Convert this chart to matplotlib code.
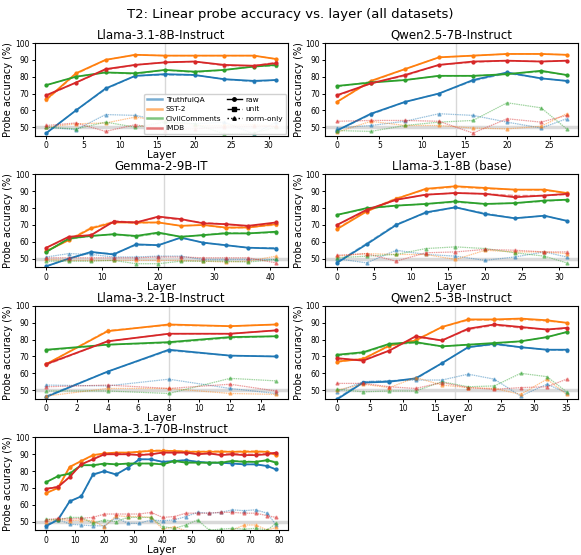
import matplotlib
matplotlib.use("Agg")
import matplotlib.pyplot as plt
from matplotlib.lines import Line2D

datasets = ["TruthfulQA", "SST-2", "CivilComments", "IMDB"]
colors = ["#1f77b4", "#ff7f0e", "#2ca02c", "#d62728"]
methods = ["raw", "unit", "norm-only"]
yticks = [50, 60, 70, 80, 90, 100]

# ---- Llama-3.1-8B-Instruct ----
l8i_title = "Llama-3.1-8B-Instruct"
l8i_layers = [0, 4, 8, 12, 16, 20, 24, 28, 31]
l8i_mid = 16
l8i_raw = [[46.5, 60, 73, 80.5, 81.5, 81, 78.5, 77.5, 78],
           [66.5, 82, 90, 93, 92.5, 92.5, 92.5, 92.5, 90.5],
           [75, 80, 82.5, 82, 84, 83, 84, 86, 87],
           [69, 76.5, 84.5, 87, 88.5, 89, 87, 86.5, 88]]
l8i_unit = [[46.5, 60, 72.5, 80.5, 81, 81, 78.5, 77, 78],
            [66, 81.5, 90, 93, 92.5, 92.5, 92.5, 92.5, 90.5],
            [75, 80, 82.5, 81.5, 84, 82.5, 84, 86, 86.5],
            [68.5, 76.5, 84, 87, 88.5, 89, 86.5, 86.5, 88.5]]
l8i_norm = [[50, 48.5, 57.5, 57, 53.5, 52, 53, 46, 53],
            [50, 52, 52.5, 56, 53.5, 51, 51, 51.5, 50.5],
            [50, 49, 53, 50, 53, 52, 46, 46.5, 50],
            [51, 52.5, 47.5, 51.5, 48, 49, 50, 50.5, 50.5]]

# ---- Qwen2.5-7B-Instruct ----
q7_title = "Qwen2.5-7B-Instruct"
q7_layers = [0, 4, 8, 12, 16, 20, 24, 27]
q7_mid = 14
q7_raw = [[48, 58, 65, 70, 78, 82.5, 79, 77.5],
          [65, 77.5, 84.5, 91.5, 92.5, 93.5, 93.5, 93],
          [74.5, 76.5, 78, 80.5, 80.5, 81.5, 83.5, 81],
          [69, 76, 81, 87, 89, 89.5, 89, 89.5]]
q7_unit = [[48, 57.5, 65, 70, 77.5, 82, 79, 77.5],
           [65, 77, 84.5, 91.5, 92.5, 93.5, 93.5, 93],
           [74, 77, 78, 80.5, 80.5, 81.5, 83, 81],
           [68.5, 76, 80.5, 87, 88.5, 89.5, 89, 89.5]]
q7_norm = [[49.5, 51, 53.5, 58, 57, 53, 49.5, 55],
           [47, 53.5, 51, 51, 49.5, 49, 50.5, 58],
           [48, 47.5, 51, 53, 54, 64.5, 61.5, 49],
           [53.5, 54, 54, 53.5, 46.5, 55, 53, 57]]

# ---- Gemma-2-9B-IT ----
g9_title = "Gemma-2-9B-IT"
g9_layers = [0, 4, 8, 12, 16, 20, 24, 28, 32, 36, 41]
g9_mid = 21
g9_raw = [[45.5, 50, 54, 52.5, 58.5, 58, 62.5, 59.5, 58, 56.5, 56],
          [54.5, 61, 68, 71.5, 71.5, 71.5, 69.5, 70, 68.5, 68.5, 70.5],
          [54, 62, 63.5, 64.5, 63.5, 65.5, 63, 64, 65, 65, 66],
          [56.5, 63, 64, 72, 71.5, 75, 73.5, 71, 70.5, 69.5, 71.5]]
g9_unit = [[45.5, 50, 53.5, 53, 58, 58, 62.5, 59.5, 58, 56.5, 56.5],
           [54.5, 61.5, 68.5, 72, 71, 71.5, 69.5, 70, 68, 68.5, 70],
           [54, 61.5, 63.5, 64.5, 63, 65, 63, 64, 65.5, 65, 65.5],
           [56.5, 62.5, 64, 72.5, 71.5, 74.5, 73, 71.5, 70.5, 69, 71]]
g9_norm = [[51, 53, 52.5, 51, 51, 51.5, 51.5, 49.5, 49.5, 49.5, 49.5],
           [49.5, 49, 49, 49, 49, 49, 49, 48.5, 48, 48.5, 51.5],
           [48.5, 48.5, 48.5, 49, 47, 47, 48.5, 48.5, 48.5, 48, 49.5],
           [50.5, 50.5, 50.5, 50.5, 50.5, 51, 51, 50.5, 50.5, 50.5, 47.5]]

# ---- Llama-3.1-8B (base) ----
l8b_title = "Llama-3.1-8B (base)"
l8b_layers = [0, 4, 8, 12, 16, 20, 24, 28, 31]
l8b_mid = 16
l8b_raw = [[47.5, 58.5, 70, 77.5, 80.5, 76.5, 74, 75.5, 72.5],
           [67.5, 78, 85.5, 91.5, 93, 92, 91, 91, 89],
           [76, 80, 81.5, 82.5, 84, 82.5, 83, 84.5, 85],
           [70, 79, 85, 88, 89, 88.5, 86.5, 87.5, 88.5]]
l8b_unit = [[48, 59, 70.5, 77, 80.5, 77, 74, 75.5, 72.5],
            [68, 78.5, 86, 91, 92.5, 91.5, 91, 90.5, 89],
            [76, 79.5, 81.5, 82.5, 83.5, 82.5, 83, 84, 85],
            [70, 78.5, 85, 88, 89, 88.5, 87.5, 87.5, 88]]
l8b_norm = [[50, 47.5, 55, 52.5, 51.5, 49, 51, 54, 51],
            [51.5, 53, 52.5, 52.5, 49.5, 55, 54, 54, 53],
            [50.5, 51.5, 52.5, 56, 57, 56, 53.5, 51.5, 47.5],
            [52, 53, 48.5, 53.5, 54, 55.5, 55, 54, 54]]

# ---- Llama-3.2-1B-Instruct ----
l1_title = "Llama-3.2-1B-Instruct"
l1_layers = [0, 4, 8, 12, 15]
l1_mid = 8
l1_raw = [[46, 61, 74, 70.5, 70],
          [65.5, 85, 89, 88, 89],
          [74, 77, 78.5, 81.5, 82],
          [65.5, 79, 83.5, 83.5, 85.5]]
l1_unit = [[46.5, 61, 73.5, 70.5, 70],
           [65.5, 85.5, 88.5, 88, 89],
           [73.5, 77, 78, 81, 82],
           [65, 79, 83.5, 83.5, 85.5]]
l1_norm = [[53, 52.5, 56.5, 51, 48],
           [46.5, 51, 51, 48, 47.5],
           [49.5, 49.5, 48, 57, 55.5],
           [52, 53, 51, 53.5, 49.5]]

# ---- Qwen2.5-3B-Instruct ----
q3_title = "Qwen2.5-3B-Instruct"
q3_layers = [0, 4, 8, 12, 16, 20, 24, 28, 32, 35]
q3_mid = 18
q3_raw = [[44.5, 54.5, 55, 57, 66, 75.5, 77.5, 75.5, 74, 74],
          [67, 68.5, 76.5, 79.5, 87.5, 92, 92, 92.5, 91.5, 90],
          [71, 72.5, 77.5, 78.5, 76, 77, 78, 79, 81.5, 84.5],
          [69, 67.5, 73.5, 82, 79.5, 86.5, 89, 87.5, 86, 87]]
q3_unit = [[45, 55, 55.5, 56.5, 66, 75.5, 77, 75.5, 74, 73.5],
           [66.5, 69, 76, 80, 87.5, 91.5, 91.5, 92, 91, 90],
           [70.5, 72, 77, 78, 76, 77, 77.5, 79, 81.5, 84.5],
           [68.5, 68, 73.5, 81.5, 79.5, 86, 88.5, 87, 86, 86.5]]
q3_norm = [[49, 55, 55.5, 56, 56, 59.5, 56.5, 46.5, 53.5, 48.5],
           [50, 53.5, 51.5, 57.5, 53, 51.5, 51, 47.5, 56.5, 47.5],
           [50.5, 49, 49.5, 49.5, 55, 52, 52.5, 60, 58, 49],
           [54, 54, 52, 51, 54.5, 51.5, 50.5, 51.5, 52, 56.5]]

# ---- Llama-3.1-70B-Instruct ----
l70_title = "Llama-3.1-70B-Instruct"
l70_layers = [0, 4, 8, 12, 16, 20, 24, 28, 32, 36, 40, 44, 48, 52, 56, 60, 64, 68, 72, 76, 79]
l70_mid = 40
l70_raw = [[47.5, 51, 62, 65, 78, 80, 78, 82, 87, 87, 85.5, 86, 86.5, 85.5, 85, 85, 84.5, 84, 84, 83, 81],
           [67, 70, 82.5, 86, 89.5, 90.5, 91, 91, 91.5, 92, 92, 92, 91.5, 91.5, 91.5, 91.5, 91.5, 91.5, 91.5, 91.5, 89.5],
           [73.5, 77, 78.5, 83.5, 83.5, 84.5, 84, 84.5, 84.5, 84.5, 84, 86, 85, 85, 85, 85, 86, 85.5, 85.5, 86.5, 85],
           [69.5, 70.5, 76.5, 84, 87, 90, 90, 90, 89.5, 90, 91, 91, 91, 90, 90.5, 89.5, 90, 89.5, 89.5, 90, 91]]
l70_unit = [[48, 51.5, 62, 65, 77.5, 80, 78, 82, 87, 87, 85.5, 86, 86.5, 85.5, 85, 85, 84.5, 84, 84, 83, 81],
            [67, 70, 82, 86, 89, 90.5, 91, 91, 91.5, 92.5, 92.5, 92, 92, 91.5, 92, 92, 91.5, 92, 92, 91.5, 89.5],
            [73.5, 77, 79, 83.5, 83.5, 84, 84, 84.5, 84.5, 84.5, 84.5, 86, 85.5, 85, 85, 85.5, 86, 86, 85.5, 86.5, 85.5],
            [69.5, 71, 76.5, 84, 87, 90.5, 90.5, 90, 90, 90, 91, 91, 91, 90.5, 90.5, 90, 90.5, 90, 90, 90.5, 91]]
l70_norm = [[47, 51.5, 48.5, 48, 47.5, 47.5, 52.5, 49, 49, 51, 50.5, 51, 53, 55.5, 55, 55.5, 57, 56.5, 57, 55, 48],
            [50, 51.5, 50.5, 51, 50.5, 47, 53.5, 53, 53, 52.5, 45.5, 47, 44.5, 44, 44, 44, 45, 48, 48, 45, 46.5],
            [51.5, 51, 52.5, 52.5, 49, 51, 50, 52.5, 52.5, 52.5, 47, 46, 48, 51, 45, 45.5, 46, 45.5, 46, 45, 49],
            [51, 52, 51.5, 52, 52.5, 54.5, 54.5, 54.5, 54.5, 55.5, 52.5, 53, 55, 55, 55, 55.5, 55.5, 55, 55, 53.5, 52.5]]

panels = [
    (l8i_title, l8i_layers, l8i_mid, l8i_raw, l8i_unit, l8i_norm),
    (q7_title, q7_layers, q7_mid, q7_raw, q7_unit, q7_norm),
    (g9_title, g9_layers, g9_mid, g9_raw, g9_unit, g9_norm),
    (l8b_title, l8b_layers, l8b_mid, l8b_raw, l8b_unit, l8b_norm),
    (l1_title, l1_layers, l1_mid, l1_raw, l1_unit, l1_norm),
    (q3_title, q3_layers, q3_mid, q3_raw, q3_unit, q3_norm),
    (l70_title, l70_layers, l70_mid, l70_raw, l70_unit, l70_norm),
]

fig, axes = plt.subplots(4, 2, figsize=(5.81, 5.55), dpi=100)
fig.subplots_adjust(left=0.060, right=0.995, top=0.9225, bottom=0.045,
                    wspace=0.15, hspace=0.42)
axes = axes.ravel()
axes[7].remove()

dots = (0, (1.2, 0.6))
for i, (title, layers, mid, raw, unit, norm) in enumerate(panels):
    ax = axes[i]
    ax.axhline(50, color="#d0d0d0", lw=2.5, alpha=0.8, zorder=0)
    ax.axvline(mid, color="#d8d8d8", lw=1.0, zorder=0)
    for k in range(4):
        c = colors[k]
        ax.plot(layers, norm[k], color=c, ls=dots, lw=0.9, marker="^", ms=2.2, alpha=0.45)
        ax.plot(layers, unit[k], color=c, ls="--", lw=1.0, marker="s", ms=2.0, alpha=0.5)
        ax.plot(layers, raw[k], color=c, ls="-", lw=1.3, marker="o", ms=2.0)
    ax.set_ylim(45, 100)
    ax.set_yticks(yticks)
    ax.set_title(title, fontsize=8.5, pad=3)
    ax.set_xlabel("Layer", fontsize=7.5, labelpad=0)
    ax.set_ylabel("Probe accuracy (%)", fontsize=7, labelpad=1)
    ax.tick_params(labelsize=5.5, length=2.5, width=0.7, pad=1.5)
    for s in ax.spines.values():
        s.set_linewidth(0.8)

handles = [Line2D([], [], color=colors[k], lw=1.8, alpha=0.6) for k in range(4)]
handles += [Line2D([], [], color="k", ls="-", marker="o", ms=2.5, lw=1.0),
            Line2D([], [], color="k", ls="--", marker="s", ms=2.5, lw=1.0),
            Line2D([], [], color="k", ls=":", marker="^", ms=2.5, lw=1.0)]
labels = datasets + methods
axes[0].legend(handles, labels, loc="lower right", ncol=2, fontsize=5.3,
               handlelength=2.0, columnspacing=0.8, labelspacing=0.45,
               borderpad=0.4, handletextpad=0.5, borderaxespad=0.2,
               framealpha=0.9)

fig.suptitle("T2: Linear probe accuracy vs. layer (all datasets)", fontsize=9.5, y=0.985)
fig.savefig("out.png", dpi=100)
